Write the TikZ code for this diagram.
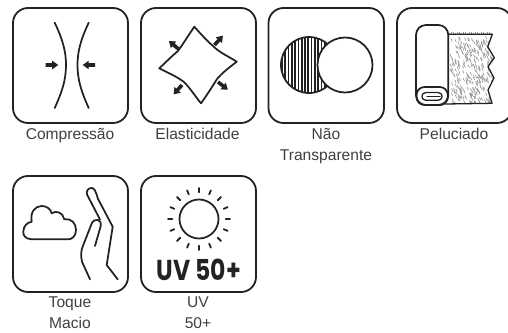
\documentclass[tikz,border=0pt]{standalone}
\usepackage{fontspec}
\setmainfont{Liberation Sans}
\newfontfamily\uvfont{Poppins}
\definecolor{ink}{HTML}{222222}
\definecolor{lab}{HTML}{3F3F3F}
\tikzset{
  iconbox/.style={draw=ink,line width=1.8pt,rounded corners=15pt},
  stroke/.style={draw=ink,line width=1.75pt,line cap=round,line join=round},
  thinstroke/.style={draw=ink,line width=1.3pt,line cap=round,line join=round},
  caption/.style={text=lab,anchor=base,font=\fontsize{15.6}{18}\selectfont,inner sep=0pt},
  furmark/.style={draw=black!42,line width=0.6pt},
  pics/blockarrow/.style={code={
    \fill[ink] (0,-1.8)--(6.5,-1.8)--(6.5,-4.3)--(12.5,0)--(6.5,4.3)--(6.5,1.8)--(0,1.8)--cycle;
  }}
}
\begin{document}
\begin{tikzpicture}[x=1pt,y=-1pt]
\useasboundingbox (0,0) rectangle (508,332);
% boxes
\draw[iconbox] (13,8) rectangle (128,123);
\draw[iconbox] (141,8) rectangle (256,123);
\draw[iconbox] (268.5,8) rectangle (384,123);
\draw[iconbox] (397,8) rectangle (512,123);
\draw[iconbox] (13,176) rectangle (128,292);
\draw[iconbox] (141,176) rectangle (256,292);
% compression
\draw[stroke] (54.7,22.7) .. controls (63,40) and (66,52) .. (66,65) .. controls (66,80) and (62,92) .. (54.7,108);
\draw[stroke] (88.7,22.7) .. controls (80.5,40) and (77.5,52) .. (77.5,65) .. controls (77.5,80) and (81.5,92) .. (88.7,108);
\pic at (45.7,65) {blockarrow};
\pic[rotate=180] at (95.2,65) {blockarrow};
% elasticity
\draw[stroke,miter limit=10] (194.3,26.7) .. controls (188,36) and (183,44) .. (178,51)
  .. controls (172,56) and (166,62) .. (159.3,68.3)
  .. controls (168,73) and (176,76) .. (184,82)
  .. controls (190,88) and (195,96) .. (201,103.3)
  .. controls (207,95) and (212,87) .. (217,79)
  .. controls (223,72) and (230,67) .. (236.7,61.7)
  .. controls (228,56) and (220,53) .. (213,46)
  .. controls (206,40) and (200,33) .. (194.3,26.7) -- cycle;
\pic[rotate=140] at (178.5,49) {blockarrow};
\pic[rotate=48] at (214.5,45) {blockarrow};
\pic[rotate=-38] at (218,82) {blockarrow};
\pic[rotate=-132] at (182,85) {blockarrow};
% non transparent
\begin{scope}
\clip (309,65) circle (28);
\foreach \k in {0,...,17} {\fill[ink] ({281+3.3*\k},30) rectangle ({281+3.3*\k+1.7},100);}
\end{scope}
\draw[stroke] (309,65) circle (28);
\draw[stroke,fill=white] (345,65) circle (27.5);
% plush: texture
\pgfmathsetseed{4217}
\begin{scope}
\clip (449,32) -- (492.3,32) -- (487.7,46.7) -- (494.3,57.7) -- (488,66.7) -- (494,78) -- (488,90) -- (492,103.3) -- (449,103.3) -- cycle;
\foreach \k in {1,...,320} {
  \pgfmathsetmacro{\px}{450+rnd*44}
  \pgfmathsetmacro{\py}{36+rnd*66}
  \draw[furmark] (\px,\py) -- ++(1.3,3.2);
}
\end{scope}
\foreach \k in {0,...,21} {\draw[furmark] ({449+2*\k},33.5) -- ++(0,{-0.6-mod(\k*7,3)*0.6});}
\draw[thinstroke] (448,34.3) -- (492.3,34.3) -- (487.7,46.7) -- (494.3,57.7) -- (488,66.7) -- (494,78) -- (488,90) -- (492,103.3) -- (445,104);
\draw[stroke,fill=white,rounded corners=10pt] (416,105) rectangle (448.3,25);
\draw[stroke,rounded corners=8pt] (416.5,105) rectangle (447.8,87);
\draw[thinstroke] (440,96.3) -- (427,96.3);
\draw[thinstroke] (432,100.3) -- (426,100.3) .. controls (420.5,100.3) and (420.5,92.5) .. (426,92.5) -- (438,92.5) .. controls (443.5,92.5) and (443.5,100.3) .. (438,100.3) -- (432,100.3);
% cloud
\draw[stroke] (31.7,239.3) .. controls (25,239) and (23,235) .. (23.3,231.7)
 .. controls (23.5,226) and (27,222.5) .. (31.7,221.7)
 .. controls (30,212) and (35,206) .. (41.7,206)
 .. controls (47,206) and (50.5,209) .. (51.7,213.3)
 .. controls (56,210) and (63,212.5) .. (64.3,219.3)
 .. controls (71,218) and (76,223) .. (76,230)
 .. controls (76,236) and (72,239.3) .. (68.3,239.3) -- cycle;
% hand
\draw[stroke] (117.7,279.3) -- (106.7,265) -- (112.7,226.7) -- (97.7,198.3)
  .. controls (96,191) and (94,188) .. (91.5,188) .. controls (88,188) and (86,191) .. (87,194.5) -- (100,219.5);
\draw[stroke] (90,279.3) -- (82,261.7) .. controls (80.5,255) and (81,250) .. (83.3,245) -- (91.5,224)
  .. controls (93,220) and (96,219.5) .. (98,220) .. controls (100.5,221) and (101.5,223) .. (100.7,226) -- (95,246);
% sun
\draw[stroke] (199,219) circle (19.5);
\foreach \a in {0,22.5,...,337.5} {\draw[stroke,line width=1.8pt] (\a:26.7) ++(199,219) -- ++(\a:4.3);}
\node[inner sep=0pt,anchor=base,text=ink] (uvbig) at (199,280.5) {\scalebox{0.98}[1.2]{\uvfont\bfseries\fontsize{24}{24}\selectfont UV 50+}};
% captions
\node[caption] (c1) at (70,139.5) {Compressão};
\node[caption] (c2) at (197.5,139.5) {Elasticidade};
\node[caption] (c3a) at (326,139.5) {Não};
\node[caption] (c3b) at (326,160) {Transparente};
\node[caption] (c4) at (454,139.5) {Peluciado};
\node[caption] (c5a) at (70,307.7) {Toque};
\node[caption] (c5b) at (70,328) {Macio};
\node[caption] (c6a) at (198,307.7) {UV};
\node[caption] (c6b) at (198,328) {50+};
\end{tikzpicture}
\end{document}
